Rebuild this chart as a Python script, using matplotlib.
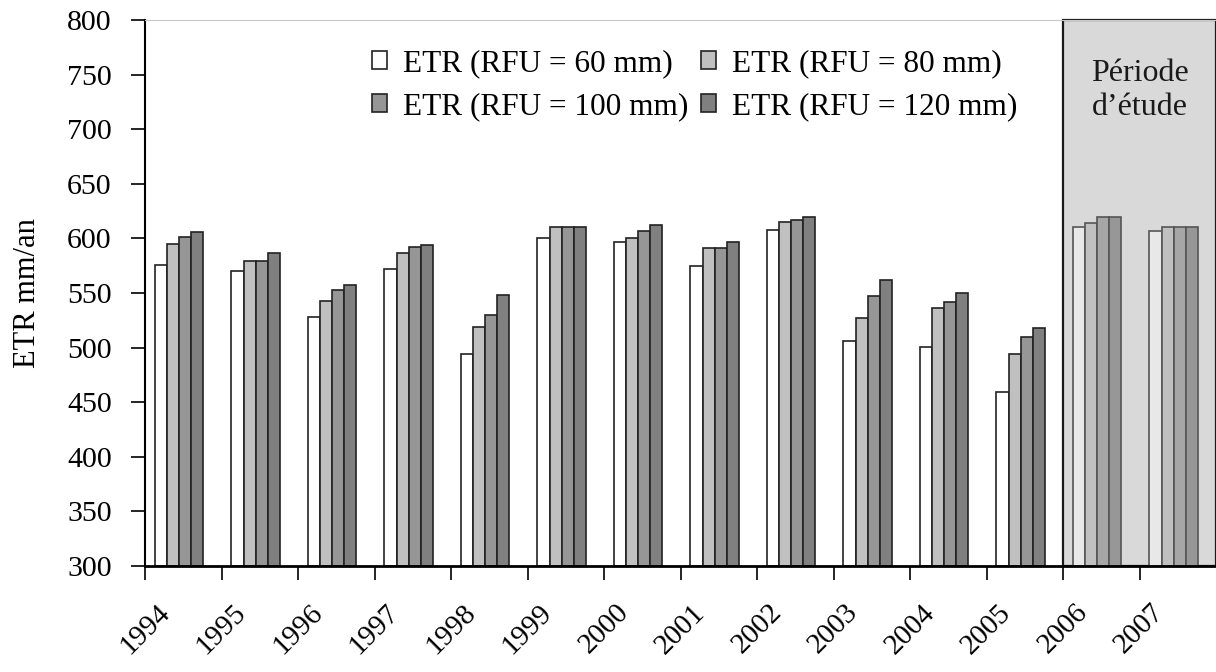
import matplotlib
matplotlib.use("Agg")
import matplotlib.pyplot as plt
import matplotlib.transforms as mtransforms
import numpy as np

plt.rcParams["font.family"] = ["Liberation Serif", "DejaVu Serif"]

# --- données ---
years = ["1994", "1995", "1996", "1997", "1998", "1999", "2000",
         "2001", "2002", "2003", "2004", "2005", "2006", "2007"]
etr_60 = [576, 570, 528, 572, 494, 600, 597, 575, 608, 506, 501, 459, 610, 607]
etr_80 = [595, 579, 543, 587, 519, 610, 600, 591, 615, 527, 536, 494, 614, 610]
etr_100 = [601, 579, 553, 592, 530, 610, 607, 591, 617, 547, 542, 510, 620, 610]
etr_120 = [606, 587, 557, 594, 548, 610, 612, 597, 620, 562, 550, 518, 620, 610]
series_labels = ["ETR (RFU = 60 mm)", "ETR (RFU = 80 mm)",
                 "ETR (RFU = 100 mm)", "ETR (RFU = 120 mm)"]
study_years = ["2006", "2007"]

colors = ["#ffffff", "#c0c0c0", "#969696", "#808080"]
colors_study = ["#e8e8e8", "#c0c0c0", "#a6a6a6", "#979797"]

fig = plt.figure(figsize=(12.16, 6.72), dpi=100)
ax = fig.add_axes([145 / 1216, 1 - 566 / 672, 1 - 145 / 1216, 546 / 672])

x = np.arange(len(years))
width = 0.158
in_study = np.array([y in study_years for y in years])
handles = []
for k, vals in enumerate([etr_60, etr_80, etr_100, etr_120]):
    fc = [colors_study[k] if s else colors[k] for s in in_study]
    ec = ["#555555" if s else "#222222" for s in in_study]
    b = ax.bar(x + 0.13 + k * width, np.array(vals) - 300, width, bottom=300,
               align="edge", color=fc, edgecolor=ec, linewidth=1.2, zorder=2)
    handles.append(b)

# zone grisée "Période d'étude"
i0 = years.index(study_years[0])
ax.axvspan(i0, len(years), facecolor="#d9d9d9", edgecolor="#1a1a1a",
           linewidth=1.6, zorder=0.5, clip_on=False)
ax.text(i0 + 1, 764, "Période\nd’étude", ha="center", va="top",
        fontsize=23, linespacing=1.2, color="#1a1a1a")

ax.set_xlim(0, len(years))
ax.set_ylim(300, 800)
ax.set_yticks(np.arange(300, 801, 50))
ax.set_xticks(x)
ax.set_xticklabels(years, rotation=45, ha="center")
offset = mtransforms.ScaledTranslation(-21 / 100, 0, fig.dpi_scale_trans)
for lbl in ax.get_xticklabels():
    lbl.set_transform(lbl.get_transform() + offset)
ax.tick_params(axis="x", direction="out", length=10, width=1.2, pad=14, labelsize=21)
ax.tick_params(axis="y", direction="out", length=10, width=1.2, pad=14, labelsize=21.5)
ax.set_ylabel("ETR mm/an", fontsize=22, labelpad=18)

ax.spines["right"].set_visible(False)
ax.spines["top"].set_color("#c8c8c8")
ax.spines["left"].set_linewidth(1.5)
ax.spines["bottom"].set_linewidth(2)

order = [0, 2, 1, 3]
ax.legend([handles[i] for i in order], [series_labels[i] for i in order],
          ncol=2, loc="upper left", bbox_to_anchor=(0.197, 0.976),
          frameon=False, fontsize=22.5, handlelength=0.5, handleheight=0.5,
          handletextpad=0.5, columnspacing=0.4, borderpad=0, labelspacing=0.45)

fig.savefig("out.png", dpi=100)
